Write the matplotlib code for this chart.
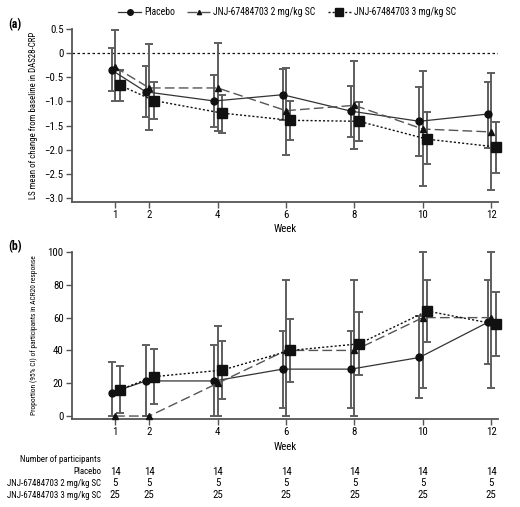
import matplotlib
matplotlib.use("Agg")
import matplotlib.pyplot as plt
import matplotlib.transforms as mtransforms
from matplotlib.lines import Line2D
import numpy as np

plt.rcParams['font.family'] = ['Liberation Sans Narrow', 'Roboto Condensed', 'Arial Narrow',
                               'Liberation Sans', 'DejaVu Sans']

weeks = [1, 2, 4, 6, 8, 10, 12]
series_names = ["Placebo", "JNJ-67484703 2 mg/kg SC", "JNJ-67484703 3 mg/kg SC"]

# Panel (a): LS mean change from baseline in DAS28-CRP
das_placebo = [-0.35, -0.80, -0.99, -0.86, -1.20, -1.41, -1.26]
das_placebo_lo = [-0.79, -1.32, -1.52, -1.39, -1.74, -2.13, -1.97]
das_placebo_hi = [0.10, -0.27, -0.46, -0.33, -0.68, -0.70, -0.59]
das_2mg = [-0.29, -0.72, -0.72, -1.19, -1.08, -1.57, -1.63]
das_2mg_lo = [-1.00, -1.59, -1.62, -2.10, -1.99, -2.75, -2.84]
das_2mg_hi = [0.47, 0.19, 0.20, -0.30, -0.17, -0.37, -0.41]
das_3mg = [-0.66, -0.98, -1.24, -1.39, -1.41, -1.78, -1.94]
das_3mg_lo = [-0.98, -1.37, -1.66, -1.80, -1.82, -2.30, -2.48]
das_3mg_hi = [-0.34, -0.59, -0.86, -1.00, -1.01, -1.22, -1.43]

# Panel (b): ACR20 response proportion (%)
acr_placebo = [14.3, 21.4, 21.4, 28.6, 28.6, 35.7, 57.1]
acr_placebo_lo = [0.0, 0.0, 0.0, 4.9, 4.9, 11.0, 31.5]
acr_placebo_hi = [32.9, 43.5, 43.1, 51.6, 51.6, 61.0, 82.7]
acr_2mg = [0.0, 0.0, 20.0, 40.0, 40.0, 60.0, 60.0]
acr_2mg_lo = [0.0, 0.0, 0.0, 0.0, 0.0, 17.1, 17.1]
acr_2mg_hi = [0.0, 0.0, 55.1, 82.7, 82.7, 100.0, 100.0]
acr_3mg = [16.0, 24.0, 28.0, 40.0, 44.0, 64.0, 56.0]
acr_3mg_lo = [1.6, 7.1, 10.4, 20.7, 25.0, 45.1, 36.6]
acr_3mg_hi = [30.3, 40.9, 45.7, 58.9, 63.2, 82.7, 75.4]

n_placebo = [14, 14, 14, 14, 14, 14, 14]
n_2mg = [5, 5, 5, 5, 5, 5, 5]
n_3mg = [25, 25, 25, 25, 25, 25, 25]
table_labels = ["Placebo", "JNJ-67484703 2 mg/kg SC", "JNJ-67484703 3 mg/kg SC"]

W, H = 520, 507
fig = plt.figure(figsize=(W / 100, H / 100), dpi=100)

def fx(px):
    return px / W

def fy(py):
    return 1 - py / H

ax1 = fig.add_axes([fx(72), fy(202), fx(498) - fx(72), fy(29) - fy(202)])
ax2 = fig.add_axes([fx(72), fy(419), fx(498) - fx(72), fy(252) - fy(419)])

styles = [
    dict(offset=-0.1, ls='-', color='#333333', marker='o', ms=5.0, lw=0.9),
    dict(offset=0.0, ls=(0, (7, 3)), color='#555555', marker='^', ms=3.8, lw=1.0),
    dict(offset=0.13, ls=(0, (1.5, 1.5)), color='#111111', marker='s', ms=6.5, lw=1.0),
]

def draw(ax, means, los, his):
    x0 = np.array(weeks, dtype=float)
    for m, lo, hi, st in zip(means, los, his, styles):
        x = x0 + st['offset']
        m = np.array(m); lo = np.array(lo); hi = np.array(hi)
        err = np.vstack([m - lo, hi - m])
        show = (hi - lo) > 1e-9
        if show.any():
            _, caps, bars = ax.errorbar(x[show], m[show], yerr=err[:, show], fmt='none',
                                        ecolor='#5e5e5e', elinewidth=1.4, capsize=2.8,
                                        capthick=1.4, zorder=2)
            for c in caps:
                c.set_color('#111111')
                c.set_clip_on(False)
            for b in bars:
                b.set_clip_on(False)
        ax.plot(x, m, linestyle=st['ls'], color=st['color'], lw=st['lw'],
                marker=st['marker'], ms=st['ms'], mfc='#111111', mec='#111111',
                zorder=3, clip_on=False)

def style_axes(ax):
    for s in ['top', 'right']:
        ax.spines[s].set_visible(False)
    for s in ['left', 'bottom']:
        ax.spines[s].set_color('#555555')
        ax.spines[s].set_linewidth(1.3)
    ax.tick_params(axis='both', direction='out', length=4, width=1.0, color='#555555',
                   labelsize=7.8, pad=2)
    ax.set_xlim(-0.26, 12.2)
    ax.set_xticks(weeks)
    ax.set_xticklabels([str(w) for w in weeks])
    ax.set_xlabel('Week', fontsize=7.8, labelpad=3)

# Panel a
draw(ax1, [das_placebo, das_2mg, das_3mg], [das_placebo_lo, das_2mg_lo, das_3mg_lo],
     [das_placebo_hi, das_2mg_hi, das_3mg_hi])
ax1.axhline(0, color='#111111', lw=0.9, ls=(0, (2, 2)), zorder=1)
style_axes(ax1)
ax1.set_ylim(-3.08, 0.5)
yt = [0.5, 0, -0.5, -1.0, -1.5, -2.0, -2.5, -3.0]
ax1.set_yticks(yt)
ax1.set_yticklabels(['0.5', '0'] + ['\u2212%.1f' % abs(v) for v in yt[2:]])
ax1.set_ylabel('LS mean of change from baseline in DAS28-CRP', fontsize=6.4, labelpad=5)

# Panel b
draw(ax2, [acr_placebo, acr_2mg, acr_3mg], [acr_placebo_lo, acr_2mg_lo, acr_3mg_lo],
     [acr_placebo_hi, acr_2mg_hi, acr_3mg_hi])
style_axes(ax2)
ax2.set_ylim(-1.8, 100)
ax2.set_yticks([0, 20, 40, 60, 80, 100])
ax2.set_ylabel('Proportion (95% CI) of participants in ACR20 response', fontsize=5.4, labelpad=7)

fig.text(fx(8), fy(25), '(a)', fontsize=8.5, fontweight='bold', va='center', ha='left')
fig.text(fx(8), fy(247), '(b)', fontsize=8.5, fontweight='bold', va='center', ha='left')

# Legend
handles = [Line2D([0], [0], linestyle=st['ls'], color=st['color'], lw=st['lw'],
                  marker=st['marker'], ms=st['ms'] * 0.8, mfc='#111111', mec='#111111')
           for st in styles]
fig.legend(handles, series_names, loc='center', bbox_to_anchor=(fx(287), fy(12)), ncol=3,
           frameon=False, fontsize=6.9, handlelength=2.4, handletextpad=0.3,
           columnspacing=1.3, borderaxespad=0)

# Number of participants table
tr = mtransforms.blended_transform_factory(ax2.transData, fig.transFigure)
fig.text(fx(101), fy(460), 'Number of participants', fontsize=6.4, ha='right', va='center')
rows_y = [472, 483.5, 495]
for lab, vals, py in zip(table_labels, [n_placebo, n_2mg, n_3mg], rows_y):
    fig.text(fx(101), fy(py), lab, fontsize=6.4, ha='right', va='center')
    for w, v in zip(weeks, vals):
        fig.text(w, fy(py), str(v), fontsize=7.8, ha='center', va='center', transform=tr)

fig.savefig('out.png', dpi=100)
